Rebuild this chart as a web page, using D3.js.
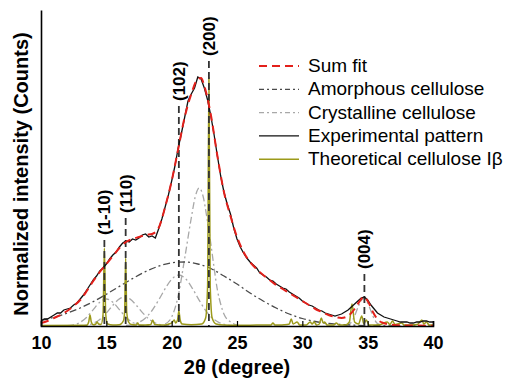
<!DOCTYPE html>
<html>
<head>
<meta charset="utf-8">
<script src="https://cdn.jsdelivr.net/npm/d3@7"></script>
<style>
    body { margin: 0; background: #fff; }
    svg { display: block; font-family: "Liberation Sans", Arial, sans-serif; }
</style>
</head>
<body>
<svg id="xrd" width="508" height="378"></svg>
<script>
// 2theta (degree), intensity (arbitrary counts)
let experimental = [
    [10.00, 5], [10.25, 7], [10.50, 7], [10.75, 9], [11.00, 11], [11.25, 13], [11.50, 13], [11.75, 16],
    [12.00, 17], [12.25, 18], [12.50, 21], [12.75, 23], [13.00, 27], [13.25, 31], [13.50, 36], [13.75, 41],
    [14.00, 46], [14.25, 50], [14.50, 55], [14.75, 58], [15.00, 62], [15.25, 67], [15.50, 71], [15.75, 74],
    [16.00, 79], [16.25, 83], [16.50, 85], [16.75, 84], [17.00, 87], [17.25, 86], [17.50, 88], [17.75, 91],
    [18.00, 92], [18.25, 89], [18.50, 90], [18.75, 88], [19.00, 97], [19.25, 107], [19.50, 119], [19.75, 131],
    [20.00, 145], [20.25, 160], [20.50, 178], [20.75, 193], [21.00, 209], [21.25, 225], [21.50, 232], [21.75, 238],
    [22.00, 249], [22.25, 247], [22.50, 238], [22.75, 226], [23.00, 210], [23.25, 191], [23.50, 170], [23.75, 150],
    [24.00, 134], [24.25, 122], [24.50, 112], [24.75, 98], [25.00, 87], [25.25, 79], [25.50, 73], [25.75, 68],
    [26.00, 64], [26.25, 61], [26.50, 58], [26.75, 53], [27.00, 51], [27.25, 49], [27.50, 46], [27.75, 45],
    [28.00, 42], [28.25, 40], [28.50, 38], [28.75, 37], [29.00, 34], [29.25, 32], [29.50, 30], [29.75, 28],
    [30.00, 25], [30.25, 23], [30.50, 21], [30.75, 20], [31.00, 18], [31.25, 16], [31.50, 15], [31.75, 13],
    [32.00, 12], [32.25, 11], [32.50, 10], [32.75, 11], [33.00, 12], [33.25, 14], [33.50, 16], [33.75, 19],
    [34.00, 22], [34.25, 25], [34.50, 28], [34.75, 29], [35.00, 26], [35.25, 21], [35.50, 17], [35.75, 13],
    [36.00, 11], [36.25, 9], [36.50, 8], [36.75, 7], [37.00, 6], [37.25, 5], [37.50, 4], [37.75, 4],
    [38.00, 4], [38.25, 3], [38.50, 3], [38.75, 4], [39.00, 4], [39.25, 5], [39.50, 5], [39.75, 4], [40.00, 4]
]

let sumFit = [
    [10, 3], [10.5, 5], [11, 8], [11.5, 11], [12, 15], [12.5, 20], [13, 26], [13.5, 35], [14, 45], [14.5, 54],
    [15, 62], [15.5, 70], [16, 78], [16.5, 84], [17, 87], [17.5, 89], [18, 91], [18.5, 92], [19, 98], [19.5, 119],
    [20, 145], [20.5, 177], [21, 209], [21.5, 232], [22, 247], [22.25, 248], [22.5, 240], [23, 211], [23.5, 170],
    [24, 134], [24.5, 110], [25, 89], [25.5, 74], [26, 64], [26.5, 57], [27, 51], [27.5, 46], [28, 41], [28.5, 37],
    [29, 33], [29.5, 29], [30, 25], [30.5, 21], [31, 17], [31.5, 14], [32, 11], [32.5, 9], [33, 8], [33.5, 10],
    [34, 17], [34.4, 25], [34.7, 29], [35, 25], [35.4, 14], [35.8, 6], [36.2, 3], [37, 1], [38, 0.5], [40, 0.3]
]

let amorphous = [
    [10, 5.6], [11, 8.7], [12, 12.8], [13, 18], [14, 24.4], [15, 31.8], [16, 39.6], [17, 47.4], [18, 54.4],
    [19, 59.8], [20, 63.2], [21, 64], [22, 62], [23, 57.5], [24, 50], [25, 42], [26, 33], [27, 25], [28, 18],
    [29, 12], [30, 7.5], [31, 4.5], [32, 2.6], [33, 1.5], [34, 0.8], [35, 0.4], [37, 0.1], [40, 0]
]

// crystalline cellulose components
let crystal1 = [
    [12, 0.3], [12.5, 1.2], [13, 3.7], [13.5, 8.8], [14, 16.4], [14.5, 23.8], [15, 27], [15.5, 23.8],
    [16, 16.4], [16.5, 8.8], [17, 3.7], [17.5, 1.2], [18, 0.3]
]
let crystal2 = [
    [13, 0.2], [13.5, 0.9], [14, 2.7], [14.5, 6.5], [15, 12.9], [15.5, 20.7], [16, 27.1], [16.4, 29],
    [16.8, 27.1], [17.3, 20.7], [17.8, 12.9], [18.3, 6.5], [18.8, 2.7], [19.3, 0.9], [19.8, 0.2]
]
let crystal3 = [
    [16.5, 0.5], [17, 1.4], [17.5, 3.7], [18, 8.1], [18.5, 15.5], [19, 25.9], [19.5, 37.3], [20, 46.8],
    [20.55, 51], [21.1, 46.8], [21.6, 37.3], [22.1, 25.9], [22.6, 15.5], [23.1, 8.1], [23.6, 3.7], [24.1, 1.4], [24.6, 0.5]
]
let crystal4 = [
    [19.5, 2], [20, 9], [20.5, 30], [21, 68], [21.5, 108], [21.8, 129], [22.1, 138], [22.4, 130], [22.7, 108],
    [23, 82], [23.25, 58], [23.5, 36], [23.75, 22], [24, 12], [24.5, 4], [25, 1]
]
let crystal5 = [
    [33.3, 0.5], [33.7, 3], [34, 10], [34.3, 20], [34.7, 28], [35.1, 20], [35.4, 10], [35.7, 3], [36.1, 0.5]
]

let theoretical = [
    [10, 0.5], [13.5, 0.8], [13.65, 4], [13.75, 11], [13.85, 4], [14.0, 1.2], [14.2, 2], [14.3, 4], [14.4, 2],
    [14.6, 1.5], [14.75, 12], [14.85, 78], [14.95, 12], [15.1, 2], [15.5, 1], [16.0, 1.2], [16.3, 5], [16.4, 14],
    [16.48, 68], [16.56, 14], [16.7, 4], [16.9, 1.5], [17.3, 1], [17.4, 3], [17.5, 1], [18.0, 1], [18.4, 1.5],
    [18.55, 6], [18.7, 1.5], [19.5, 1], [19.8, 2], [20.0, 3], [20.2, 6], [20.3, 3], [20.45, 6], [20.55, 15],
    [20.65, 6], [20.8, 2], [21.5, 1.2], [22.3, 2], [22.6, 8], [22.75, 40], [22.85, 248], [22.95, 40], [23.1, 8],
    [23.4, 2], [24, 1], [25, 0.8], [26, 0.8], [27.0, 1], [27.6, 1], [27.75, 3], [27.9, 1], [28.3, 1], [28.6, 1.2],
    [29.0, 2], [29.15, 7], [29.3, 2], [29.6, 4], [29.8, 1], [30.3, 1], [30.6, 4], [30.75, 2], [30.9, 4], [31.1, 1],
    [31.3, 2], [31.45, 8], [31.6, 3], [31.7, 4], [31.9, 1], [32.4, 1], [32.6, 3], [32.8, 1], [33.3, 1], [33.6, 4],
    [33.8, 22], [34.0, 4], [34.3, 2], [34.55, 10], [34.7, 2], [34.9, 6], [35.1, 1], [35.6, 1], [36.0, 1.5],
    [36.5, 4], [36.7, 1.5], [36.9, 5], [37.1, 1.5], [37.6, 3], [37.8, 1], [38.3, 1], [38.8, 1.5], [39.15, 6],
    [39.3, 2], [39.5, 4], [39.7, 1], [40, 1]
]

let peakLabels = ["(1-10)", "(110)", "(102)", "(200)", "(004)"]
let peakAngles = [14.85, 16.48, 20.55, 22.85, 34.75]

let xTicks = [10, 15, 20, 25, 30, 35, 40]

let legendNames = ["Sum fit", "Amorphous cellulose", "Crystalline cellulose", "Experimental pattern", "Theoretical cellulose I\u03B2"]


function drawChart() {
    const svg = d3.select("#xrd")

    const x = d3.scaleLinear().domain([10, 40]).range([41, 433])
    const y = d3.scaleLinear().domain([0, 316]).range([326, 10])

    const line = d3.line()
        .x(d => x(d[0]))
        .y(d => y(d[1]))
        .curve(d3.curveMonotoneX)

    const dashDot = "7,3,2,3"

    // crystalline components
    const crystals = [crystal1, crystal2, crystal3, crystal4, crystal5]
    for (let j = 0; j < crystals.length; j++) {
        svg.append("path")
            .attr("d", line(crystals[j]))
            .attr("fill", "none")
            .attr("stroke", "#a8a8a8")
            .attr("stroke-width", 1.3)
            .attr("stroke-dasharray", dashDot)
    }

    svg.append("path")
        .attr("d", line(amorphous))
        .attr("fill", "none")
        .attr("stroke", "#4a4a4a")
        .attr("stroke-width", 1.3)
        .attr("stroke-dasharray", dashDot)

    svg.append("path")
        .attr("d", line(theoretical))
        .attr("fill", "none")
        .attr("stroke", "#9c9a1a")
        .attr("stroke-width", 1.5)

    // peak markers (heights of label anchors in data units)
    const labelTop = [86, 108, 220, 265, 52]
    for (let j = 0; j < peakAngles.length; j++) {
        const px = x(peakAngles[j])
        svg.append("line")
            .attr("x1", px)
            .attr("x2", px)
            .attr("y1", y(labelTop[j]))
            .attr("y2", y(0))
            .attr("stroke", "#333")
            .attr("stroke-width", 1.8)
            .attr("stroke-dasharray", "7,4")

        svg.append("text")
            .attr("transform", "translate(" + (px + 6) + "," + (y(labelTop[j]) - 5) + ") rotate(-90)")
            .attr("text-anchor", "start")
            .attr("font-size", 17)
            .attr("font-weight", "bold")
            .text(peakLabels[j])
    }

    svg.append("path")
        .attr("d", line.curve(d3.curveLinear)(experimental))
        .attr("fill", "none")
        .attr("stroke", "#111")
        .attr("stroke-width", 1.3)

    svg.append("path")
        .attr("d", line.curve(d3.curveMonotoneX)(sumFit))
        .attr("fill", "none")
        .attr("stroke", "#e3201b")
        .attr("stroke-width", 2)
        .attr("stroke-dasharray", "8,5")

    // axes
    const xAxis = d3.axisBottom(x).tickValues(xTicks).tickSize(-5).tickPadding(10)
    const gx = svg.append("g")
        .attr("transform", "translate(0," + y(0) + ")")
        .call(xAxis)
    gx.select(".domain").attr("stroke", "#000").attr("stroke-width", 1.6)
    gx.selectAll(".tick line").attr("stroke", "#000").attr("stroke-width", 1.2)
    gx.selectAll(".tick text")
        .attr("font-size", 18)
        .attr("font-weight", "bold")
        .attr("font-family", "Liberation Sans, Arial, sans-serif")
        .attr("fill", "#000")

    const gy = svg.append("g")
        .attr("transform", "translate(" + x(10) + ",0)")
        .call(d3.axisLeft(y).tickValues([]).tickSizeOuter(0))
    gy.select(".domain").attr("stroke", "#000").attr("stroke-width", 1.6)

    svg.append("text")
        .attr("x", 237)
        .attr("y", 374)
        .attr("text-anchor", "middle")
        .attr("font-size", 20)
        .attr("font-weight", "bold")
        .text("2\u03B8 (degree)")

    svg.append("text")
        .attr("transform", "translate(28,174) rotate(-90)")
        .attr("text-anchor", "middle")
        .attr("font-size", 20)
        .attr("font-weight", "bold")
        .text("Normalized intensity (Counts)")

    // legend
    const styles = [
        {color: "#e3201b", dash: "8,5", width: 2},
        {color: "#4a4a4a", dash: "5,3,2,3", width: 1.3},
        {color: "#a8a8a8", dash: "5,3,2,3", width: 1.3},
        {color: "#111", dash: null, width: 1.4},
        {color: "#9c9a1a", dash: null, width: 1.5}
    ]
    for (let j = 0; j < legendNames.length; j++) {
        const by = 72 + j * 23.3
        svg.append("line")
            .attr("x1", 259)
            .attr("x2", 299)
            .attr("y1", by - 6)
            .attr("y2", by - 6)
            .attr("stroke", styles[j].color)
            .attr("stroke-width", styles[j].width)
            .attr("stroke-dasharray", styles[j].dash)
        svg.append("text")
            .attr("x", 308)
            .attr("y", by)
            .attr("font-size", 19)
            .text(legendNames[j])
    }
}

drawChart()
</script>
</body>
</html>
